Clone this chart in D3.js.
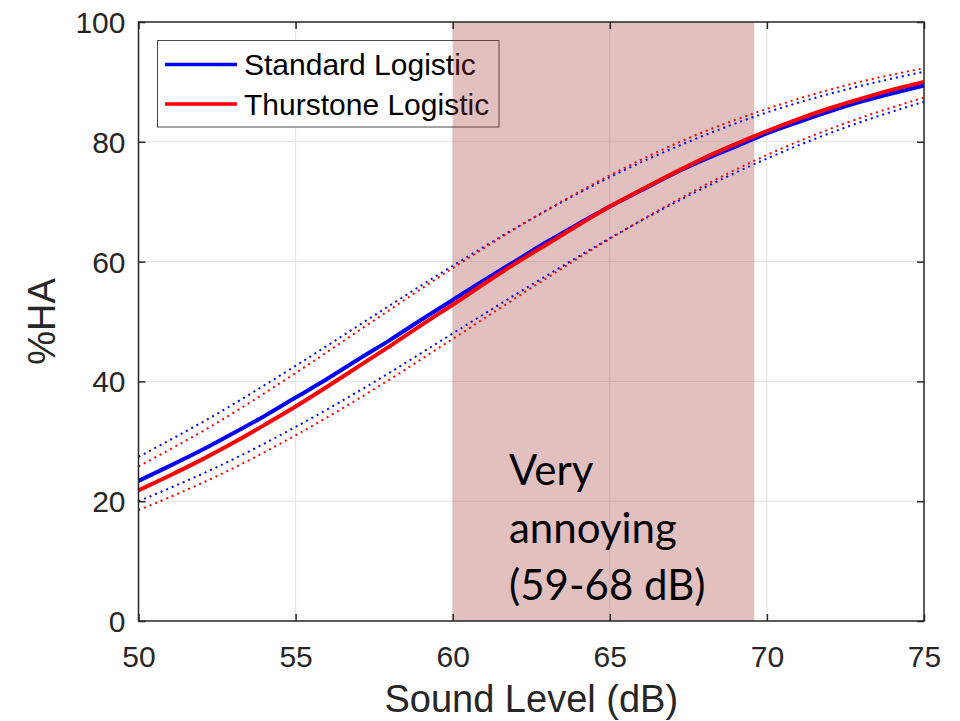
<!DOCTYPE html>
<html>
<head>
<meta charset="utf-8">
<script src="https://cdn.jsdelivr.net/npm/d3@7"></script>
<style>
  html, body { margin: 0; padding: 0; background: #fff; }
  svg { display: block; }
</style>
</head>
<body>
<svg id="chart" width="960" height="721"></svg>
<script>
// ---- Data ----
const xSolid = [50,51,52,53,54,55,56,57,58,59,60,61,62,63,64,65,66,67,68,69,70,71,72,73,74,75];
const standardLogistic = [23.4,25.9,28.5,31.3,34.2,37.3,40.4,43.7,46.9,50.3,53.6,56.9,60.1,63.3,66.3,69.2,71.9,74.6,77.0,79.2,81.4,83.3,85.1,86.7,88.1,89.4];
const thurstoneLogistic = [21.8,24.3,26.9,29.7,32.7,35.8,39.1,42.5,45.9,49.4,52.8,56.3,59.7,62.9,66.1,69.2,72.0,74.7,77.3,79.6,81.8,83.8,85.6,87.2,88.7,90.0];

const xBand = [50,52.5,55,57.5,60,62.5,65,67.5,70,72.5,75];
const standardUpper = [27.4,34.6,42.6,51.0,59.3,67.1,74.1,80.0,84.9,88.7,91.7];
const standardLower = [20.0,25.7,32.4,39.9,48.0,56.1,63.9,71.0,77.2,82.4,86.7];
const thurstoneUpper = [25.8,33.1,41.4,50.2,58.9,67.1,74.4,80.6,85.5,89.4,92.3];
const thurstoneLower = [18.5,24.2,31.0,38.7,47.1,55.6,63.8,71.3,77.8,83.1,87.4];

const xTicks = [50,55,60,65,70,75];
const yTicks = [0,20,40,60,80,100];
const shadedRange = [60, 69.6];
const seriesNames = ["Standard Logistic", "Thurstone Logistic"];
const seriesColors = ["#0000ff", "#ff0000"];
const annotationLines = ["Very", "annoying", "(59-68 dB)"];

// ---- Layout ----
const L = 138.5, R = 924, T = 22, B = 621;
const svg = d3.select("#chart");
const x = d3.scaleLinear().domain([50, 75]).range([L, R]);
const y = d3.scaleLinear().domain([0, 100]).range([B, T]);
const axisColor = "#262626";
const axisFont = "'Liberation Sans', Arial, sans-serif";

// grid
const grid = svg.append("g");
grid.selectAll("line.gx").data(xTicks.slice(1, -1)).join("line")
  .attr("x1", d => x(d)).attr("x2", d => x(d)).attr("y1", T).attr("y2", B)
  .attr("stroke", "#e3e3e3").attr("stroke-width", 1);
grid.selectAll("line.gy").data(yTicks.slice(1, -1)).join("line")
  .attr("y1", d => y(d)).attr("y2", d => y(d)).attr("x1", L).attr("x2", R)
  .attr("stroke", "#e3e3e3").attr("stroke-width", 1);

// legend (drawn under the shaded patch, as in the reference)
const lg = svg.append("g");
lg.append("rect").attr("x", 157.5).attr("y", 40.5).attr("width", 341.5).attr("height", 86.5)
  .attr("fill", "#fff").attr("stroke", "#4a4a4a").attr("stroke-width", 1);
seriesNames.forEach((name, i) => {
  const yy = 64.5 + i * 39.5;
  lg.append("line").attr("x1", 165).attr("x2", 237).attr("y1", yy).attr("y2", yy)
    .attr("stroke", seriesColors[i]).attr("stroke-width", 3.5);
  lg.append("text").attr("x", 244).attr("y", yy + 10.5).text(name)
    .attr("font-family", axisFont).attr("font-size", 30).attr("fill", "#000");
});

// shaded patch
svg.append("rect")
  .attr("x", x(shadedRange[0])).attr("y", T)
  .attr("width", x(shadedRange[1]) - x(shadedRange[0])).attr("height", B - T)
  .attr("fill", "rgb(162,45,45)").attr("fill-opacity", 0.3);

// curves
const line = (xs) => d3.line().x((d, i) => x(xs[i])).y(d => y(d)).curve(d3.curveMonotoneX);
const curves = svg.append("g").attr("fill", "none");
[[standardUpper, 0], [standardLower, 0], [thurstoneUpper, 1], [thurstoneLower, 1]].forEach(([arr, c]) => {
  curves.append("path").attr("d", line(xBand)(arr))
    .attr("stroke", seriesColors[c]).attr("stroke-width", 2)
    .attr("stroke-dasharray", "2,4");
});
curves.append("path").attr("d", line(xSolid)(standardLogistic))
  .attr("stroke", seriesColors[0]).attr("stroke-width", 4);
curves.append("path").attr("d", line(xSolid)(thurstoneLogistic))
  .attr("stroke", seriesColors[1]).attr("stroke-width", 4);

// annotation
const ann = svg.append("text").attr("font-family", "Lato, 'Open Sans', sans-serif")
  .attr("font-size", 42).attr("fill", "#000");
annotationLines.forEach((t, i) => {
  ann.append("tspan").attr("x", 509).attr("y", 485 + i * 57.5).text(t);
});

// axes frame and ticks
const frame = svg.append("g");
frame.append("rect").attr("x", L).attr("y", T).attr("width", R - L).attr("height", B - T)
  .attr("fill", "none").attr("stroke", axisColor).attr("stroke-width", 1.5);

const xAxisB = d3.axisBottom(x).tickValues(xTicks).tickSizeInner(-7).tickSizeOuter(0).tickPadding(9);
const gxb = svg.append("g").attr("transform", `translate(0,${B})`).call(xAxisB);
const xAxisT = d3.axisTop(x).tickValues(xTicks).tickSizeInner(-7).tickSizeOuter(0).tickFormat("");
const gxt = svg.append("g").attr("transform", `translate(0,${T})`).call(xAxisT);
const yAxisL = d3.axisLeft(y).tickValues(yTicks).tickSizeInner(-7).tickSizeOuter(0).tickPadding(13);
const gyl = svg.append("g").attr("transform", `translate(${L},0)`).call(yAxisL);
const yAxisR = d3.axisRight(y).tickValues(yTicks).tickSizeInner(-7).tickSizeOuter(0).tickFormat("");
const gyr = svg.append("g").attr("transform", `translate(${R},0)`).call(yAxisR);

[gxb, gxt, gyl, gyr].forEach(g => {
  g.select(".domain").remove();
  g.selectAll(".tick line").attr("stroke", axisColor).attr("stroke-width", 1.5);
  g.selectAll(".tick text").attr("font-family", axisFont).attr("font-size", 30).attr("fill", axisColor);
});
gxb.selectAll(".tick text").attr("dy", null).attr("y", 46);
gyl.selectAll(".tick text").attr("dy", "0.35em");

// axis labels
svg.append("text").attr("x", (L + R) / 2).attr("y", 712).attr("text-anchor", "middle")
  .attr("font-family", axisFont).attr("font-size", 38).attr("fill", axisColor)
  .text("Sound Level (dB)");
svg.append("text").attr("transform", `translate(55,${(T + B) / 2}) rotate(-90)`)
  .attr("text-anchor", "middle")
  .attr("font-family", axisFont).attr("font-size", 38).attr("fill", axisColor)
  .text("%HA");
</script>
</body>
</html>
